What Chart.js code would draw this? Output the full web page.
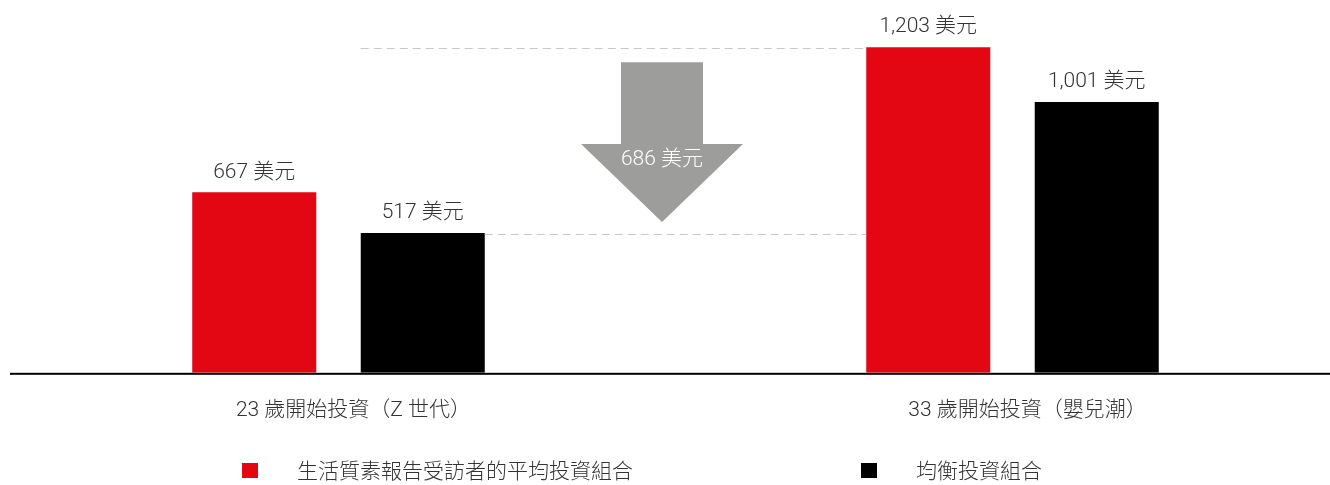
<!DOCTYPE html>
<html>
<head>
<meta charset="utf-8">
<script src="https://cdn.jsdelivr.net/npm/chart.js@4"></script>
<style>
  html, body { margin: 0; padding: 0; background: #fff; }
  canvas { display: block; }
</style>
</head>
<body>
<canvas id="chart" width="1330" height="485"></canvas>
<script>
// data
const categories = ['23 歲開始投資（Z 世代）', '', '33 歲開始投資（嬰兒潮）'];
const seriesNames = ['生活質素報告受訪者的平均投資組合', '均衡投資組合'];
const surveyValues = [667, null, 1203];
const balancedValues = [517, null, 1001];
const seriesColors = ['#e30613', '#000000'];
const unit = '美元';

const FONT = "Roboto, 'Noto Sans CJK TC', sans-serif";
const textColor = '#333333';

const fmt = (v) => v.toLocaleString('en-US') + ' ' + unit;

// value labels, guide lines, arrow, baseline, legend
const annotations = {
  id: 'annotations',
  afterDatasetsDraw(chart) {
    const ctx = chart.ctx;
    const area = chart.chartArea;
    const red = chart.getDatasetMeta(0).data;
    const blk = chart.getDatasetMeta(1).data;

    ctx.save();

    // dashed guides from the gen Z black bar to the boomer red bar
    const redLeft = red[2].x - red[2].width / 2;
    ctx.strokeStyle = '#c8c8c8';
    ctx.lineWidth = 1;
    ctx.setLineDash([8, 5]);
    ctx.beginPath();
    ctx.moveTo(blk[0].x - blk[0].width / 2, Math.round(red[2].y) + 1.5);
    ctx.lineTo(redLeft, Math.round(red[2].y) + 1.5);
    ctx.moveTo(blk[0].x + blk[0].width / 2, Math.round(blk[0].y) + 1.5);
    ctx.lineTo(redLeft, Math.round(blk[0].y) + 1.5);
    ctx.stroke();
    ctx.setLineDash([]);

    // grey down arrow
    const cx = 662;
    const top = red[2].y + 15;
    const tip = blk[0].y - 11;
    const headY = tip - 78;
    ctx.fillStyle = '#9d9d9c';
    ctx.beginPath();
    ctx.moveTo(cx - 41, top);
    ctx.lineTo(cx + 41, top);
    ctx.lineTo(cx + 41, headY);
    ctx.lineTo(cx + 81, headY);
    ctx.lineTo(cx, tip);
    ctx.lineTo(cx - 81, headY);
    ctx.lineTo(cx - 41, headY);
    ctx.closePath();
    ctx.fill();

    ctx.font = '300 21px ' + FONT;
    ctx.textAlign = 'center';
    ctx.textBaseline = 'middle';
    ctx.fillStyle = '#ffffff';
    ctx.fillText(fmt(surveyValues[2] - balancedValues[0]), cx, headY + 16);

    // value labels above bars
    ctx.fillStyle = textColor;
    [red, blk].forEach((bars, d) => {
      bars.forEach((bar, i) => {
        const v = chart.data.datasets[d].data[i];
        if (v == null) return;
        ctx.fillText(fmt(v), bar.x, bar.y - 20);
      });
    });

    // baseline across the whole width
    ctx.fillStyle = '#000000';
    ctx.fillRect(10, area.bottom, chart.width - 10, 2);

    // legend
    const legendX = [242, 861];
    chart.data.datasets.forEach((ds, d) => {
      ctx.fillStyle = ds.backgroundColor;
      ctx.fillRect(legendX[d], 463, 16, 15);
      ctx.fillStyle = textColor;
      ctx.textAlign = 'left';
      ctx.font = '300 21px ' + FONT;
      ctx.fillText(ds.label, legendX[d] + 55, 473);
    });

    ctx.restore();
  }
};

new Chart(document.getElementById('chart'), {
  type: 'bar',
  data: {
    labels: categories,
    datasets: [
      { label: seriesNames[0], data: surveyValues, backgroundColor: seriesColors[0] },
      { label: seriesNames[1], data: balancedValues, backgroundColor: seriesColors[1] }
    ]
  },
  options: {
    responsive: false,
    devicePixelRatio: 1,
    animation: false,
    categoryPercentage: 1.0,
    barPercentage: 0.736,
    layout: { padding: { top: 21, left: 170, right: 149, bottom: 37 } },
    plugins: {
      legend: { display: false },
      tooltip: { enabled: false }
    },
    scales: {
      x: {
        grid: { display: false, drawTicks: false },
        border: { display: false },
        ticks: {
          color: textColor,
          font: { family: FONT, size: 21, weight: 300 },
          padding: 25,
          labelOffset: 15,
          maxRotation: 0,
          autoSkip: false
        }
      },
      y: {
        display: false,
        min: 0,
        max: 1300
      }
    }
  },
  plugins: [annotations]
});
</script>
</body>
</html>
